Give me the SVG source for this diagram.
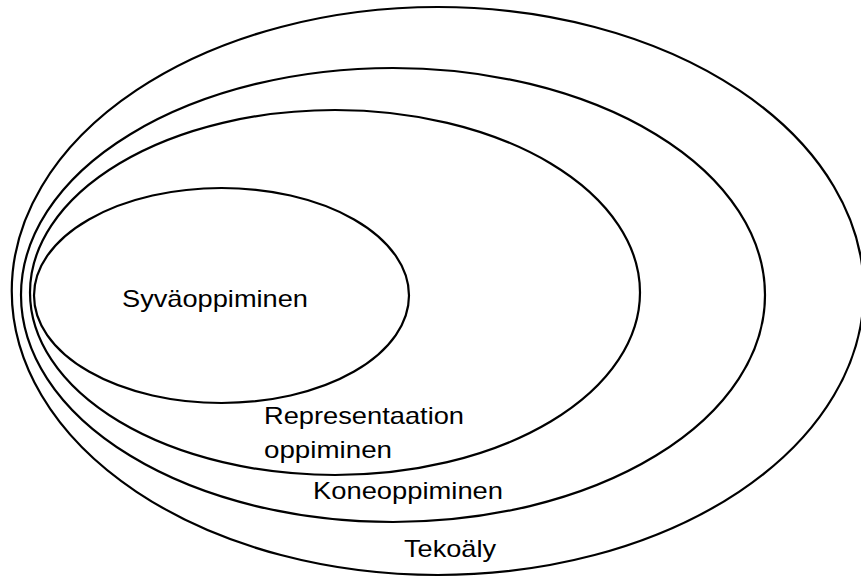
<svg xmlns="http://www.w3.org/2000/svg" width="861" height="577" viewBox="0 0 861 577">
  <style>
    .set { fill: none; stroke: #000; stroke-width: 2.2; }
    .label { font-family: "Liberation Sans", Arial, sans-serif; font-size: 24px; fill: #000; }
  </style>
  <rect width="861" height="577" fill="#fff"/>
  <!-- Nested sets: AI contains ML contains representation learning contains deep learning -->
  <g id="tekoaly">
    <ellipse class="set" cx="437.75" cy="291" rx="426" ry="284"/>
    <text class="label" x="404" y="557" textLength="92" lengthAdjust="spacingAndGlyphs">Tekoäly</text>
  </g>
  <g id="koneoppiminen">
    <ellipse class="set" cx="393" cy="295" rx="372" ry="227"/>
    <text class="label" x="313" y="499" textLength="190" lengthAdjust="spacingAndGlyphs">Koneoppiminen</text>
  </g>
  <g id="representaatio">
    <ellipse class="set" cx="335" cy="292.5" rx="305" ry="182.5"/>
    <text class="label" x="264" y="424" textLength="200" lengthAdjust="spacingAndGlyphs">Representaation</text>
    <text class="label" x="264" y="458" textLength="128" lengthAdjust="spacingAndGlyphs">oppiminen</text>
  </g>
  <g id="syvaoppiminen">
    <ellipse class="set" cx="221.5" cy="295.5" rx="187.5" ry="107.5"/>
    <text class="label" x="122" y="307" textLength="186" lengthAdjust="spacingAndGlyphs">Syväoppiminen</text>
  </g>
  <g id="connectors"/>
</svg>
